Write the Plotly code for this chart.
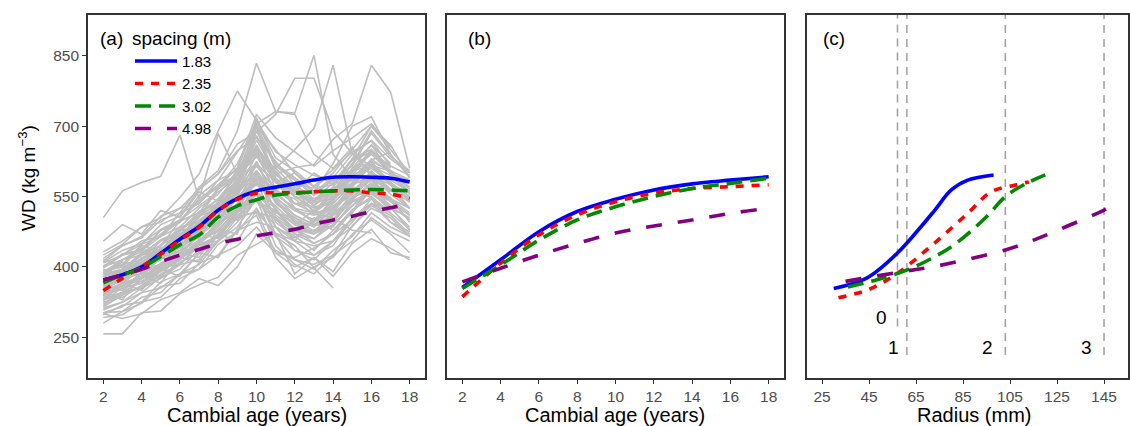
import plotly.graph_objects as go

# ---------------- data ----------------
ages = list(range(2, 19))
spacing_labels = ["1.83", "2.35", "3.02", "4.98"]
colors = ["#0000FF", "#FF0000", "#008800", "#800080"]
dashes = ["solid", "8px,8px", "16px,8px", "16px,16px"]

# panel (a): fitted curves by cambial age
fit_a = {
    "1.83": [372, 383, 400, 429, 459, 486, 521, 546, 562, 570, 577, 585, 591, 592, 591, 589, 581],
    "2.35": [349, 376, 400, 427, 457, 484, 520, 544, 557, 558, 558, 560, 562, 562, 558, 555, 546],
    "3.02": [366, 383, 398, 422, 447, 468, 506, 530, 543, 553, 557, 560, 562, 564, 565, 564, 562],
    "4.98": [372, 383, 395, 411, 425, 437, 450, 459, 466, 473, 480, 491, 500, 508, 518, 526, 534],
}

# panel (b): model predictions by cambial age
ages_b = [2, 4, 6, 8, 10, 12, 14, 16, 18]
fit_b = {
    "1.83": [356, 415, 475, 518, 544, 564, 577, 585, 592],
    "2.35": [336, 408, 468, 511, 539, 557, 567, 571, 575],
    "3.02": [354, 404, 457, 500, 528, 550, 567, 578, 589],
    "4.98": [368, 397, 425, 450, 472, 487, 500, 514, 525],
}

# panel (c): predictions by radius (mm)
radius_c = {
    "1.83": [30, 44, 57, 66, 73, 80, 87, 98],
    "2.35": [32, 45, 57, 72, 87, 97, 108, 113],
    "3.02": [36, 48, 61, 72, 82, 95, 103, 112, 120],
    "4.98": [35, 57, 72, 87, 103, 115, 129, 145, 150],
}
wd_c = {
    "1.83": [354, 376, 429, 479, 521, 564, 585, 596],
    "2.35": [334, 352, 386, 447, 514, 560, 575, 581],
    "3.02": [357, 372, 393, 419, 450, 507, 550, 578, 596],
    "4.98": [369, 388, 400, 416, 436, 457, 486, 521, 535],
}
vline_radius = [57.1, 61.1, 103, 145]
vline_bottom = [273, 212, 212, 212]
vline_labels = ["0", "1", "2", "3"]
vlabel_x = [50.2, 55.2, 95.2, 137.7]
vlabel_y = [291, 227, 227, 227]

# individual tree profiles (grey), WD by cambial age 2..18
trees = [
    [505, 562, 580, 593, 681, 545, 575, 610, 655, 585, 560, 600, 575, 630, 650, 600, None],
    [412, 445, 462, 500, 515, 570, 605, 690, 834, 731, 725, 640, 610, 655, 590, 560, None],
    [378, 415, 432, 478, 495, 552, 585, 645, 705, 731, 728, 851, 640, 590, 628, 645, None],
    [398, 425, 448, 490, 508, 565, 598, 662, 688, 725, 802, 802, 690, 642, 598, 565, None],
    [362, 385, 428, 445, 498, 515, 566, 598, 642, 610, 650, 695, 830, 640, 615, 585, 560],
    [392, 405, 448, 465, 515, 535, 585, 605, 655, 598, 612, 618, 672, 705, 830, 773, 610],
    [425, 448, 485, 505, 548, 598, 690, 775, 712, 645, 618, 595, 585, 562, 548, None, None],
    [398, 428, 436, 478, 495, 545, 684, 598, 700, 560, 545, 512, 505, 478, 472, None, None],
    [257, 257, 302, 306, 343, 362, 378, 425, 448, 472, 455, 505, 478, 522, 545, 515, None],
    [322, 345, 355, 392, 415, 448, 455, 505, 518, 470, 445, 398, 355, None, None, None, None],
    [280, 305, 322, 358, 365, 408, 425, 478, 495, 485, 462, 498, 515, 568, 575, 565, 538],
    [298, 318, 325, 368, 385, 428, 455, 528, 598, 555, 525, 495, 548, 605, 615, 595, 555],
    [332, 345, 388, 402, 448, 465, 528, 572, 655, 598, 565, 532, 568, 585, 618, 575, 558],
    [348, 378, 385, 428, 455, 508, 535, 608, 712, 632, 605, 572, 608, 645, 668, 615, 595],
    [372, 375, 408, 425, 478, 505, 568, 612, 725, 675, 645, 615, 648, 675, 705, 655, None],
    [338, 365, 375, 408, 425, 468, 495, 565, 690, 615, 585, 552, 588, 605, 648, 598, 585],
    [365, 372, 418, 432, 468, 485, 538, 562, 605, 555, 525, 495, 528, 555, 585, 545, 525],
    [388, 415, 425, 458, 475, 518, 535, 588, 615, 585, 535, 528, 535, 578, 585, 565, None],
    [308, 325, 345, 378, 395, 438, 465, 518, 555, 525, 475, 478, 485, 538, 555, 528, 478],
    [292, 298, 325, 335, 375, 395, 448, 475, 525, 465, 435, 415, 455, 495, 545, 495, 465],
    [352, 385, 395, 438, 445, 488, 495, 548, 575, 545, 495, 488, 495, 548, 565, 548, 495],
    [418, 445, 465, 508, 525, 565, 598, 648, 675, 625, 575, 568, 575, 628, 645, 615, None],
    [382, 395, 425, 435, 478, 485, 528, 555, 605, 495, 465, 435, 478, 515, 565, 525, 505],
    [328, 355, 365, 405, 415, 458, 475, 528, 555, 465, 415, 405, 425, 488, 525, 505, 465],
    [358, 375, 385, 418, 435, 478, 495, 548, 585, 485, 435, 425, 445, 505, 535, 515, None],
    [402, 425, 455, 465, 498, 515, 568, 595, 645, 555, 525, 495, 535, 575, 625, 575, 545],
    [338, 355, 365, 398, 405, 448, 465, 508, 515, 505, 475, 478, 495, 545, 575, 565, 525],
    [312, 325, 355, 375, 405, 415, 455, 485, 545, 445, 405, 385, 425, 455, 505, 475, 455],
    [368, 395, 405, 448, 465, 508, 525, 568, 595, 565, 535, 538, 545, 595, 615, 605, 565],
    [352, 358, 385, 405, 445, 475, 525, 555, 625, 535, 505, 485, 525, 555, 605, 565, 545],
    [432, 455, 485, 495, 525, 535, 575, 595, 635, 595, 575, 545, 565, 585, 615, 575, None],
    [302, 315, 345, 355, 385, 395, 425, 445, 485, 435, 415, 395, 435, 465, 515, 485, 465],
    [388, 405, 415, 455, 475, 515, 545, 595, 635, 585, 525, 515, 525, 575, 595, 575, 525],
    [318, 345, 355, 385, 405, 445, 465, 515, 545, 505, 455, 445, 455, 505, 535, 525, 485],
    [362, 375, 405, 415, 455, 475, 515, 545, 700, 585, 565, 515, 555, 595, 645, 605, 585],
    [408, 425, 435, 465, 485, 525, 555, 605, 655, 605, 555, 545, 555, 605, 625, 605, 555],
    [342, 365, 395, 405, 435, 455, 495, 515, 555, 515, 505, 475, 515, 545, 595, 555, 525],
    [378, 395, 405, 435, 455, 495, 515, 575, 718, 615, 585, 555, 585, 615, 685, 635, 605],
    [302, 305, 335, 345, 385, 405, 455, 495, 545, 485, 455, 425, 455, 485, 535, 495, 475],
    [372, 395, 425, 445, 485, 495, 535, 565, 615, 565, 535, 515, 545, 575, 615, 575, 545],
    [455, 490, 470, 520, 505, 560, 540, 600, 650, 580, 600, 560, 620, 700, 720, 640, None],
    [345, 330, 380, 365, 420, 410, 470, 455, 520, 430, 400, 420, 390, 450, 480, 430, 420],
    [395, 380, 430, 420, 470, 460, 520, 500, 560, 470, 385, 420, 380, 430, 460, 440, 415],
    [330, 365, 350, 395, 380, 430, 420, 480, 510, 420, 375, 400, 420, 470, 500, 470, 430],
    [385, 410, 400, 440, 430, 470, 460, 520, 540, 520, 490, 520, 560, 620, 660, 600, 560],
    [415, 400, 445, 435, 480, 470, 510, 500, 590, 540, 500, 470, 510, 540, 600, 560, None],
    [300, 290, 300, 330, 345, 375, 360, 400, 470, 430, 420, 440, 470, 520, 570, 530, 500],
    [360, 350, 390, 380, 430, 420, 480, 470, 600, 520, 480, 460, 500, 560, 590, 540, 510],
    [350, 375, 400, 415, 450, 470, 505, 530, 580, 545, 520, 510, 530, 560, 600, 580, 550],
    [330, 340, 375, 390, 420, 450, 480, 520, 560, 530, 490, 470, 500, 540, 560, 520, None],
    [390, 400, 410, 440, 460, 490, 530, 575, 680, 600, 560, 540, 560, 600, 650, 610, None],
    [360, 390, 395, 425, 445, 480, 520, 560, 705, 610, 570, 540, 570, 620, 690, 640, 590],
    [375, 380, 420, 430, 470, 490, 520, 560, 640, 560, 520, 500, 540, 610, 660, 620, None],
    [340, 360, 380, 420, 440, 470, 505, 545, 600, 520, 480, 470, 500, 545, 580, 545, 515],
    [315, 340, 360, 395, 420, 455, 490, 535, 620, 550, 510, 490, 520, 570, 620, 580, 540],
    [355, 370, 395, 420, 455, 490, 540, 580, 670, 600, 550, 520, 550, 580, 630, 600, None],
    [400, 415, 440, 470, 500, 530, 560, 590, 620, 580, 550, 540, 580, 630, 700, 660, 590],
    [365, 380, 400, 425, 460, 480, 510, 550, 580, 540, 510, 490, 510, 550, 575, 540, 500],
    [325, 335, 360, 380, 410, 430, 470, 520, 590, 520, 470, 450, 470, 520, 550, 515, 480],
    [385, 395, 430, 455, 470, 500, 530, 560, 640, 580, 560, 530, 560, 610, 640, 600, 570],
    [345, 355, 375, 400, 420, 440, 470, 510, 540, 500, 470, 460, 490, 530, 560, 540, None],
    [410, 435, 450, 480, 500, 540, 570, 620, 700, 650, 600, 570, 600, 650, 700, 650, 600],
    [335, 345, 370, 390, 415, 450, 485, 530, 600, 540, 495, 470, 490, 530, 570, 540, 510],
    [370, 385, 410, 430, 465, 495, 530, 580, 660, 590, 550, 525, 540, 590, 610, 580, 540],
    [350, 365, 380, 400, 425, 455, 490, 525, 560, 510, 480, 450, 470, 500, 530, 510, 470],
    [380, 390, 415, 445, 480, 510, 545, 585, 690, 620, 590, 560, 590, 640, 670, 630, 600],
]

x_ticks_age = [2, 4, 6, 8, 10, 12, 14, 16, 18]
x_ticks_rad = [25, 45, 65, 85, 105, 125, 145]
y_ticks = [250, 400, 550, 700, 850]

# ---------------- figure ----------------
W, H = 1130, 426
FONT = "Liberation Sans, Arial, sans-serif"
fig = go.Figure()

for t in trees:
    fig.add_trace(go.Scatter(x=ages, y=t, mode="lines", xaxis="x", yaxis="y",
                             line=dict(color="#BEBEBE", width=1.6),
                             showlegend=False, hoverinfo="skip", connectgaps=False))

for i, s in enumerate(spacing_labels):
    fig.add_trace(go.Scatter(x=ages, y=fit_a[s], mode="lines", name=s, xaxis="x", yaxis="y",
                             line=dict(color=colors[i], width=3.6, dash=dashes[i], shape="spline"),
                             showlegend=True))
for i, s in enumerate(spacing_labels):
    fig.add_trace(go.Scatter(x=ages_b, y=fit_b[s], mode="lines", name=s, xaxis="x2", yaxis="y2",
                             line=dict(color=colors[i], width=3.6, dash=dashes[i], shape="spline"),
                             showlegend=False))

for xv, yb in zip(vline_radius, vline_bottom):
    fig.add_trace(go.Scatter(x=[xv, xv], y=[yb, 937], mode="lines", xaxis="x3", yaxis="y3",
                             line=dict(color="#A0A0A0", width=1.5, dash="8px,6px"),
                             showlegend=False, hoverinfo="skip"))
for i, s in enumerate(spacing_labels):
    fig.add_trace(go.Scatter(x=radius_c[s], y=wd_c[s], mode="lines", name=s, xaxis="x3", yaxis="y3",
                             line=dict(color=colors[i], width=3.6, dash=dashes[i], shape="spline"),
                             showlegend=False))


def px_x(p):
    return p / W


def px_y(p):
    return 1 - p / H


ydom = [px_y(378), px_y(15)]
axis_common = dict(showline=True, linecolor="#333333", linewidth=1.6, mirror=True,
                   showgrid=False, zeroline=False, ticks="outside", ticklen=4,
                   tickwidth=1.2, tickcolor="#333333",
                   tickfont=dict(family=FONT, size=15.5, color="#4D4D4D"))

fig.update_layout(
    width=W, height=H, margin=dict(l=0, r=0, t=0, b=0),
    paper_bgcolor="white", plot_bgcolor="white",
    font=dict(family=FONT, color="black"),
    xaxis=dict(domain=[px_x(88), px_x(425)], range=[1.2, 18.8], tickvals=x_ticks_age,
               anchor="y", **axis_common),
    yaxis=dict(domain=ydom, range=[163, 937], tickvals=y_ticks, anchor="x", **axis_common),
    xaxis2=dict(domain=[px_x(447), px_x(784)], range=[1.2, 18.8], tickvals=x_ticks_age,
                anchor="y2", **axis_common),
    yaxis2=dict(domain=ydom, range=[163, 937], anchor="x2", **{**axis_common, "ticks": "",
                "showticklabels": False}),
    xaxis3=dict(domain=[px_x(807), px_x(1128)], range=[18.6, 155.2], tickvals=x_ticks_rad,
                anchor="y3", **axis_common),
    yaxis3=dict(domain=ydom, range=[163, 937], anchor="x3", **{**axis_common, "ticks": "",
                "showticklabels": False}),
    legend=dict(x=px_x(130), y=px_y(20), xanchor="left", yanchor="top",
                bgcolor="rgba(0,0,0,0)", borderwidth=0, itemwidth=42,
                title=dict(text="spacing (m)", font=dict(family=FONT, size=19, color="black")),
                font=dict(family=FONT, size=15, color="black"), traceorder="normal"),
)

ann = []
# panel tags
for txt, xp in [("(a)", 98), ("(b)", 466), ("(c)", 821)]:
    ann.append(dict(text=txt, x=px_x(xp), y=px_y(39), xref="paper", yref="paper",
                    xanchor="left", yanchor="middle", showarrow=False,
                    font=dict(family=FONT, size=19, color="black")))
# axis titles
for txt, xc in [("Cambial age (years)", 256.5), ("Cambial age (years)", 615.5), ("Radius (mm)", 974)]:
    ann.append(dict(text=txt, x=px_x(xc), y=px_y(415), xref="paper", yref="paper",
                    xanchor="center", yanchor="middle", showarrow=False,
                    font=dict(family=FONT, size=20, color="black")))
ann.append(dict(text="WD (kg m<sup>\u22123</sup>)", x=px_x(27), y=px_y(178), xref="paper", yref="paper",
                xanchor="center", yanchor="middle", textangle=-90, showarrow=False,
                font=dict(family=FONT, size=19, color="black")))
# vertical line labels in (c)
for lab, xv, yv in zip(vline_labels, vlabel_x, vlabel_y):
    ann.append(dict(text=lab, x=xv, y=yv, xref="x3", yref="y3", xanchor="center",
                    yanchor="middle", showarrow=False,
                    font=dict(family=FONT, size=19, color="black")))
fig.update_layout(annotations=ann)

fig.write_html("out.html")
